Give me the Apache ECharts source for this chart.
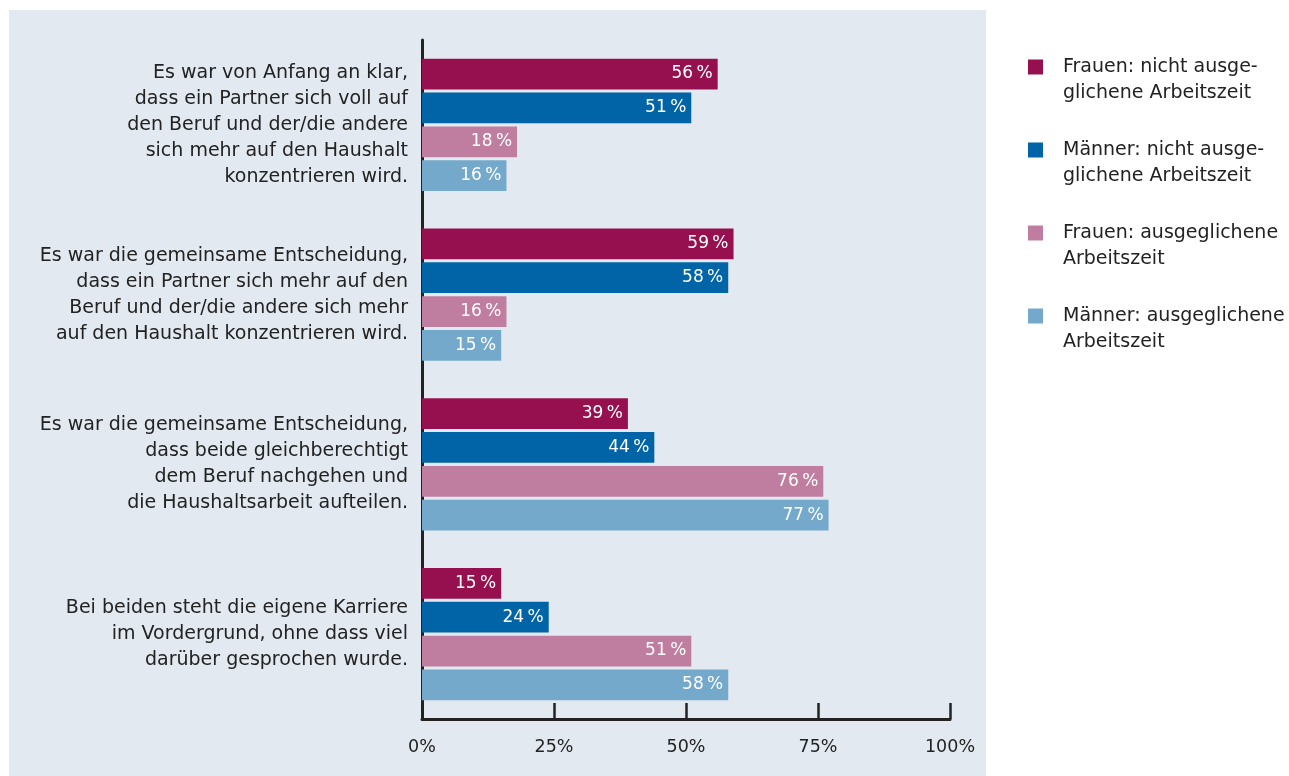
<!DOCTYPE html>
<html>
<head>
<meta charset="utf-8">
<script src="https://cdn.jsdelivr.net/npm/echarts@6/dist/echarts.min.js"></script>
<style>
  html, body { margin: 0; padding: 0; background: #fff; }
  #chart { width: 1289px; height: 776px; }
</style>
</head>
<body>
<div id="chart"></div>
<script>
// Antwortkategorien (von oben nach unten)
const categories = [
  'Es war von Anfang an klar,\ndass ein Partner sich voll auf\nden Beruf und der/die andere\nsich mehr auf den Haushalt\nkonzentrieren wird.',
  'Es war die gemeinsame Entscheidung,\ndass ein Partner sich mehr auf den\nBeruf und der/die andere sich mehr\nauf den Haushalt konzentrieren wird.',
  'Es war die gemeinsame Entscheidung,\ndass beide gleichberechtigt\ndem Beruf nachgehen und\ndie Haushaltsarbeit aufteilen.',
  'Bei beiden steht die eigene Karriere\nim Vordergrund, ohne dass viel\ndarüber gesprochen wurde.'
]
const seriesNames = [
  'Frauen: nicht ausgeglichene Arbeitszeit',
  'Männer: nicht ausgeglichene Arbeitszeit',
  'Frauen: ausgeglichene Arbeitszeit',
  'Männer: ausgeglichene Arbeitszeit'
]
// Legendentext mit Zeilenumbruch wie im Original
const legendLabels = [
  'Frauen: nicht ausge-\nglichene Arbeitszeit',
  'Männer: nicht ausge-\nglichene Arbeitszeit',
  'Frauen: ausgeglichene\nArbeitszeit',
  'Männer: ausgeglichene\nArbeitszeit'
]
const frauenNicht = [56, 59, 39, 15]
const maennerNicht = [51, 58, 44, 24]
const frauenAusg = [18, 16, 76, 51]
const maennerAusg = [16, 15, 77, 58]
const xTicks = [0, 25, 50, 75, 100]

const colors = ['#961050', '#0064a7', '#bf7ea0', '#74a9cb']
const values = [frauenNicht, maennerNicht, frauenAusg, maennerAusg]
const font = 'DejaVu Sans'

const chart = echarts.init(document.getElementById('chart'))

const series = seriesNames.map(function (name, i) {
  return {
    name: name,
    type: 'bar',
    data: values[i],
    barGap: '10%',
    barCategoryGap: '22%',
    itemStyle: { color: colors[i] },
    label: {
      show: true,
      position: 'insideRight',
      distance: 5,
      color: '#fff',
      fontFamily: font,
      fontSize: 17,
      formatter: function (p) { return p.value + '\u2009%' }
    },
    emphasis: { disabled: true }
  }
})

const option = {
  backgroundColor: '#fff',
  animation: false,
  color: colors,
  graphic: [
    {
      type: 'rect',
      z: -10,
      shape: { x: 9, y: 10, width: 977, height: 770 },
      style: { fill: '#e3e9f0' }
    }
  ],
  grid: {
    left: 422,
    right: 339,
    top: 40,
    bottom: 57,
    containLabel: false
  },
  legend: {
    orient: 'vertical',
    left: 1028,
    top: 28,
    padding: 0,
    itemWidth: 15,
    itemHeight: 15,
    itemGap: 5,
    icon: 'rect',
    selectedMode: false,
    textStyle: {
      fontFamily: font,
      fontSize: 19,
      color: '#222',
      lineHeight: 26,
      padding: [0, 0, 0, 15]
    },
    // leere erste Zeile, damit die erste Textzeile neben dem Quadrat steht
    formatter: function (name) {
      return ' \n' + legendLabels[seriesNames.indexOf(name)]
    },
    data: seriesNames
  },
  xAxis: {
    type: 'value',
    min: xTicks[0],
    max: xTicks[xTicks.length - 1],
    interval: 25,
    axisLine: { show: true, lineStyle: { color: '#222', width: 3 } },
    axisTick: { show: true, inside: true, length: 16, lineStyle: { color: '#222', width: 2.5 } },
    splitLine: { show: false },
    axisLabel: {
      fontFamily: font,
      fontSize: 17.5,
      color: '#222',
      margin: 19,
      formatter: '{value}%'
    }
  },
  yAxis: {
    type: 'category',
    inverse: true,
    data: categories,
    axisLine: { show: true, lineStyle: { color: '#222', width: 3 } },
    axisTick: { show: false },
    axisLabel: {
      fontFamily: font,
      fontSize: 19,
      color: '#222',
      lineHeight: 26,
      align: 'right',
      margin: 14,
      padding: [0, 0, 4, 0]
    }
  },
  series: series
}

chart.setOption(option)
</script>
</body>
</html>
